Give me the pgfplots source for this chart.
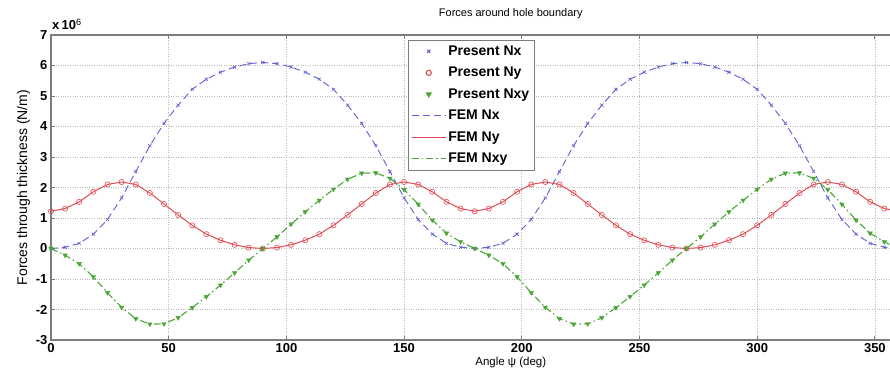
\documentclass[border=0pt]{standalone}
\usepackage{fontspec}
\setmainfont{Liberation Sans}
\usepackage{pgfplots}
\usepackage{pgfplotstable}
\pgfplotsset{compat=1.18}
\definecolor{cblue}{RGB}{95,95,210}
\definecolor{cred}{RGB}{225,75,85}
\definecolor{cgreen}{RGB}{75,165,55}
\definecolor{axgray}{RGB}{125,125,125}
\pgfplotstableread{
a nx ny nxy
0 0 1.22 0
6 0.04 1.31 -0.22
12 0.17 1.53 -0.50
18 0.47 1.86 -0.93
24 0.95 2.10 -1.45
30 1.66 2.18 -1.93
36 2.52 2.10 -2.30
42 3.37 1.82 -2.48
48 4.10 1.46 -2.47
54 4.70 1.10 -2.27
60 5.22 0.76 -1.94
66 5.55 0.47 -1.58
72 5.78 0.27 -1.20
78 5.95 0.12 -0.80
84 6.06 0.03 -0.38
90 6.10 0.00 0.00
96 6.06 0.03 0.38
102 5.95 0.12 0.80
108 5.78 0.27 1.20
114 5.55 0.47 1.58
120 5.22 0.76 1.94
126 4.70 1.10 2.27
132 4.10 1.46 2.47
138 3.37 1.82 2.48
144 2.52 2.10 2.30
150 1.66 2.18 1.93
156 0.95 2.10 1.45
162 0.47 1.86 0.93
168 0.17 1.53 0.50
174 0.04 1.31 0.22
180 0 1.22 0
186 0.04 1.31 -0.22
192 0.17 1.53 -0.50
198 0.47 1.86 -0.93
204 0.95 2.10 -1.45
210 1.66 2.18 -1.93
216 2.52 2.10 -2.30
222 3.37 1.82 -2.48
228 4.10 1.46 -2.47
234 4.70 1.10 -2.27
240 5.22 0.76 -1.94
246 5.55 0.47 -1.58
252 5.78 0.27 -1.20
258 5.95 0.12 -0.80
264 6.06 0.03 -0.38
270 6.10 0.00 0.00
276 6.06 0.03 0.38
282 5.95 0.12 0.80
288 5.78 0.27 1.20
294 5.55 0.47 1.58
300 5.22 0.76 1.94
306 4.70 1.10 2.27
312 4.10 1.46 2.47
318 3.37 1.82 2.48
324 2.52 2.10 2.30
330 1.66 2.18 1.93
336 0.95 2.10 1.45
342 0.47 1.86 0.93
348 0.17 1.53 0.50
354 0.04 1.31 0.22
360 0 1.22 0
}\forces
\begin{document}
\begin{tikzpicture}
\begin{axis}[name=ax,
  scale only axis, width=847.4pt, height=305pt,
  xmin=0, xmax=360, ymin=-3, ymax=7,
  xtick={0,50,...,350}, ytick={-3,-2,...,7},
  grid=major, grid style={dotted, gray!55, line width=0.6pt},
  axis line style={axgray, line width=1.1pt},
  tick style={axgray, line width=0.8pt},
  tick align=inside, major tick length=4pt,
  ticklabel style={font=\fontsize{13}{15}\selectfont\bfseries},
  /pgf/number format/assume math mode=true,
  xlabel={Angle ψ (deg)},
  ylabel={Forces through thickness (N/m)},
  xlabel style={font=\fontsize{11.5}{13}\selectfont, at={(ticklabel cs:0.5426)}, anchor=near ticklabel, yshift=2pt},
  ylabel style={font=\fontsize{14}{16}\selectfont, yshift=-1pt},
  title={Forces around hole boundary},
  title style={font=\fontsize{11}{13}\selectfont, at={(rel axis cs:0.5426,1)}, anchor=south, yshift=7pt},
  legend style={at={(rel axis cs:0.4213,0.984)}, anchor=north west,
    draw=axgray, fill=white, font=\fontsize{14}{16}\selectfont\bfseries,
    row sep=6pt, inner xsep=3pt, inner ysep=3.5pt,
    nodes={text height=10.5pt, text depth=3pt, inner ysep=1pt, inner xsep=2pt}},
  legend cell align=left,
  legend image code/.code={\draw[mark repeat=2,mark phase=2,#1,draw=.,line width=1.1pt] plot coordinates {(0pt,0pt) (17pt,0pt) (34pt,0pt)};},
]
\addplot[only marks, mark=x, mark size=2.2pt, cblue, line width=0.6pt] table[x=a,y=nx] {\forces};
\addplot[only marks, mark=o, mark size=2.6pt, cred, line width=0.6pt] table[x=a,y=ny] {\forces};
\addplot[only marks, mark=triangle*, mark options={rotate=180}, mark size=2.6pt, cgreen] table[x=a,y=nxy] {\forces};
\addplot[no markers, cblue, line width=0.9pt, dash pattern=on 7pt off 4pt] table[x=a,y=nx] {\forces};
\addplot[no markers, color=cred, line width=1pt] table[x=a,y=ny] {\forces};
\addplot[no markers, cgreen, line width=1.1pt, dash pattern=on 7pt off 3pt on 1.5pt off 3pt] table[x=a,y=nxy] {\forces};
\legend{Present Nx, Present Ny, Present Nxy, FEM Nx, FEM Ny, FEM Nxy}
\end{axis}
\node[anchor=south west, inner sep=0pt, font=\fontsize{13}{15}\selectfont\bfseries] at ([shift={(1pt,5pt)}]ax.north west) {x\,10\textsuperscript{\mdseries 6}};
\pgfresetboundingbox
\path[use as bounding box] ([shift={(-51pt,-43pt)}]ax.south west) rectangle ([shift={(839pt,35pt)}]ax.north west);
\end{tikzpicture}
\end{document}
